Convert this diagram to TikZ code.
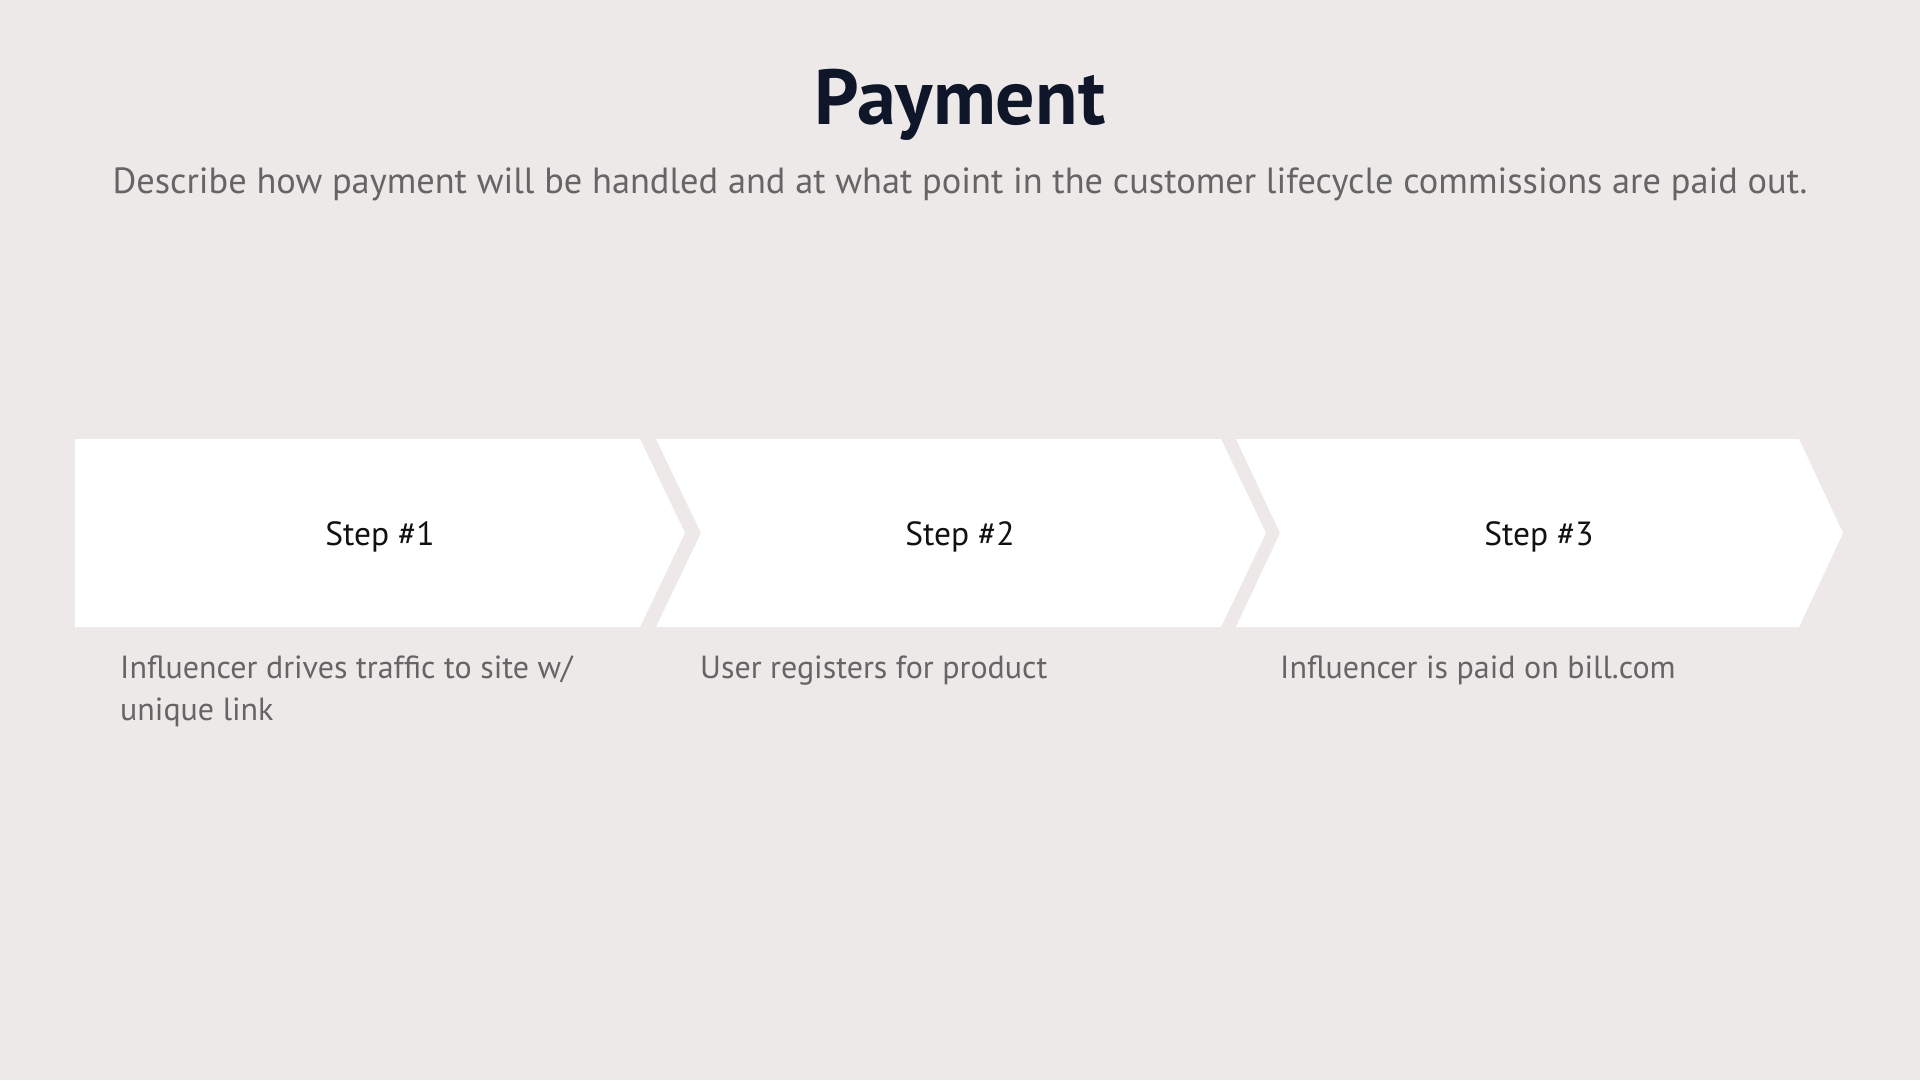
\documentclass[tikz,border=0pt]{standalone}
\usepackage{fontspec}
\setmainfont{PT Sans}
\usetikzlibrary{positioning}
\definecolor{bg}{HTML}{ECE9E8}
\definecolor{titlec}{HTML}{0F1629}
\definecolor{subc}{HTML}{656565}
\definecolor{stepc}{HTML}{111111}
\tikzset{
  chev/.style={fill=white, draw=none},
  steptext/.style={text=stepc, font=\fontsize{33.5}{40}\selectfont, inner sep=0pt, anchor=base},
  desctext/.style={text=subc, font=\fontsize{32}{42}\selectfont, inner sep=0pt, anchor=north west, align=left},
}
\begin{document}
\begin{tikzpicture}[x=1pt,y=-1pt]
\fill[bg] (0,0) rectangle (1920,1080);
\useasboundingbox (0,0) rectangle (1920,1080);
% title
\node[text=titlec, font=\fontsize{78}{88}\selectfont\bfseries, inner sep=0pt, anchor=base] (title) at (960,124) {Payment};
\node[text=subc, font=\fontsize{36.4}{44}\selectfont, inner sep=0pt, anchor=base] (sub) at (960,193) {Describe how payment will be handled and at what point in the customer lifecycle commissions are paid out.};
% chevrons
\fill[chev] (75,439) -- (640,439) -- (685,533) -- (640,627) -- (75,627) -- cycle;
\fill[chev] (656,439) -- (1221,439) -- (1266,533) -- (1221,627) -- (656,627) -- (701,533) -- cycle;
\fill[chev] (1236,439) -- (1799,439) -- (1843,533) -- (1799,627) -- (1236,627) -- (1280,533) -- cycle;
\node[steptext] (s1) at (380,545.5) {Step \#1};
\node[steptext] (s2) at (960,545.5) {Step \#2};
\node[steptext] (s3) at (1539,545.5) {Step \#3};
\node[desctext] (d1) at (120,656) {Influencer drives traffic to site w/\\unique link};
\node[desctext] (d2) at (700,656) {User registers for product};
\node[desctext] (d3) at (1280,656) {Influencer is paid on bill.com};
\end{tikzpicture}
\end{document}
